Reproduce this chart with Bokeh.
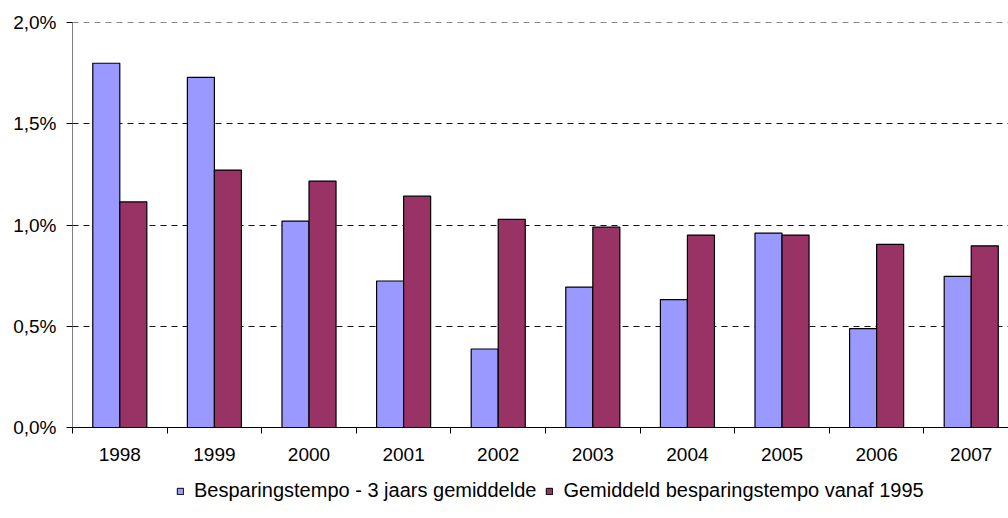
from bokeh.plotting import figure
from bokeh.models import ColumnDataSource, FixedTicker, Range1d, Legend, LegendItem
from bokeh.layouts import column
from bokeh.transform import dodge
from bokeh.embed import file_html
from bokeh.resources import INLINE

years = ["1998", "1999", "2000", "2001", "2002", "2003", "2004", "2005", "2006", "2007"]
drie_jaars = [1.80, 1.73, 1.02, 0.724, 0.388, 0.694, 0.632, 0.961, 0.489, 0.747]
vanaf_1995 = [1.115, 1.272, 1.218, 1.143, 1.029, 0.99, 0.951, 0.951, 0.905, 0.898]
y_ticks = [0.0, 0.5, 1.0, 1.5, 2.0]
y_labels = ["0,0%", "0,5%", "1,0%", "1,5%", "2,0%"]
series_names = ["Besparingstempo - 3 jaars gemiddelde", "Gemiddeld besparingstempo vanaf 1995"]
colors = ["#9999FF", "#993366"]

idx = list(range(len(years)))
src = ColumnDataSource(dict(x=idx, a=drie_jaars, b=vanaf_1995))

FONT = "Liberation Sans"

p = figure(frame_width=936, frame_height=405, output_backend="svg", toolbar_location=None,
           x_range=Range1d(-0.5, 9.394), y_range=Range1d(0, 2.0015),
           min_border_left=72, min_border_top=22, min_border_right=0, min_border_bottom=52)
p.outline_line_color = None
p.background_fill_color = "white"

bw = 0.2857
r1 = p.vbar(x=dodge("x", -bw / 2), top="a", width=bw, source=src, fill_color=colors[0],
            line_color="black", line_width=1.2)
r2 = p.vbar(x=dodge("x", bw / 2), top="b", width=bw, source=src, fill_color=colors[1],
            line_color="black", line_width=1.2)

# x axis
p.xaxis.ticker = FixedTicker(ticks=idx, minor_ticks=[i - 0.5 for i in range(len(years) + 1)])
p.xaxis.major_label_overrides = {i: y for i, y in enumerate(years)}
p.xaxis.major_tick_out = 0
p.xaxis.major_tick_in = 0
p.xaxis.minor_tick_out = 6
p.xaxis.minor_tick_in = 0
p.xaxis.minor_tick_line_color = "black"
p.xaxis.axis_line_color = "black"
p.xaxis.major_label_standoff = 14
p.xaxis.major_label_text_font = FONT
p.xaxis.major_label_text_font_size = "19px"
p.xaxis.major_label_text_color = "black"

# y axis
p.yaxis.ticker = FixedTicker(ticks=y_ticks, minor_ticks=[])
p.yaxis.major_label_overrides = {t: l for t, l in zip(y_ticks, y_labels)}
p.yaxis.axis_line_color = "#808080"
p.yaxis.major_tick_out = 6
p.yaxis.major_tick_in = 0
p.yaxis.major_tick_line_color = "black"
p.yaxis.major_label_standoff = 10
p.yaxis.major_label_text_font = FONT
p.yaxis.major_label_text_font_size = "19px"
p.yaxis.major_label_text_color = "black"

p.xgrid.grid_line_color = None
p.ygrid.grid_line_color = "#111111"
p.ygrid.grid_line_dash = "6 5"
p.ygrid.grid_line_width = 1

# legend strip below the chart (its swatch renderers sit outside the visible range)
pl = figure(width=1008, height=39, output_backend="svg", toolbar_location=None,
            x_range=Range1d(0, 1), y_range=Range1d(0, 1),
            min_border_left=0, min_border_right=0, min_border_top=0, min_border_bottom=0)
pl.axis.visible = False
pl.grid.grid_line_color = None
pl.outline_line_color = None
swatch = ColumnDataSource(dict(x=[5.0], top=[0.5]))
l1 = pl.vbar(x="x", top="top", width=0.1, source=swatch, fill_color=colors[0],
             line_color="black", line_width=1)
l2 = pl.vbar(x="x", top="top", width=0.1, source=swatch, fill_color=colors[1],
             line_color="black", line_width=1)
legend = Legend(items=[LegendItem(label=series_names[0], renderers=[l1]),
                       LegendItem(label=series_names[1], renderers=[l2])],
                orientation="horizontal", location=(104, 16),
                label_text_font=FONT, label_text_font_size="20px", label_text_color="black",
                label_height=20, glyph_width=8, glyph_height=8, spacing=9, label_standoff=10,
                border_line_color=None, background_fill_alpha=0, padding=0, margin=0)
pl.add_layout(legend, "center")

layout = column(p, pl, spacing=0)
open("out.html", "w").write(file_html(layout, INLINE))
